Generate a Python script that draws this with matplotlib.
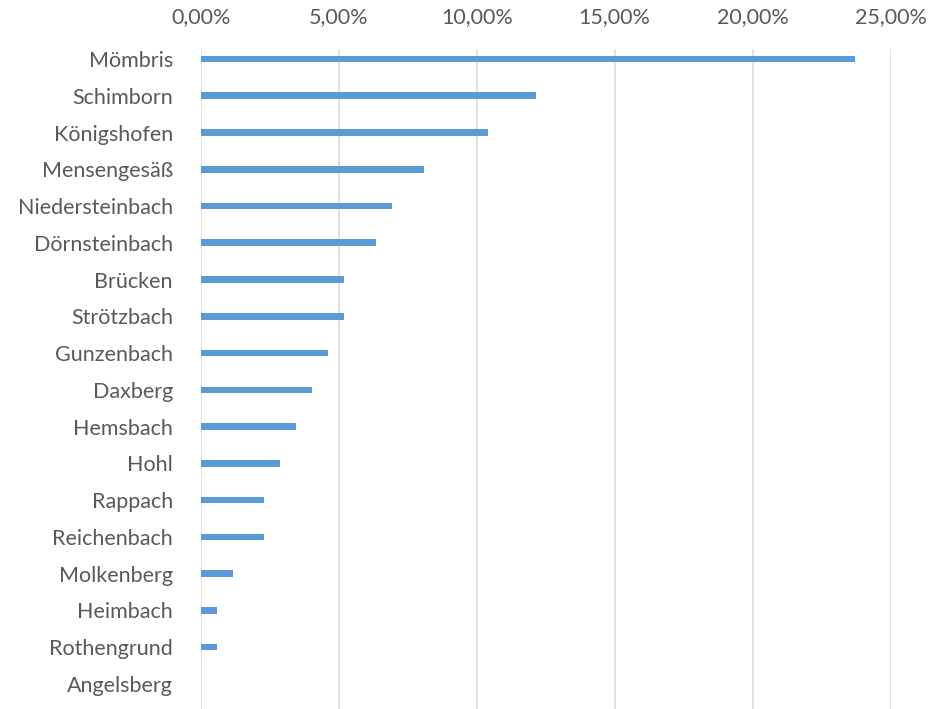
import matplotlib
matplotlib.use("Agg")
import matplotlib.pyplot as plt
from matplotlib.ticker import FuncFormatter

categories = ["Mömbris", "Schimborn", "Königshofen", "Mensengesäß", "Niedersteinbach",
              "Dörnsteinbach", "Brücken", "Strötzbach", "Gunzenbach", "Daxberg",
              "Hemsbach", "Hohl", "Rappach", "Reichenbach", "Molkenberg",
              "Heimbach", "Rothengrund", "Angelsberg"]
values = [23.70, 12.14, 10.40, 8.09, 6.94, 6.36, 5.20, 5.20, 4.62, 4.05,
          3.47, 2.89, 2.31, 2.31, 1.16, 0.58, 0.58, 0.0]
xticks = [0, 5, 10, 15, 20, 25]

plt.rcParams['font.family'] = ['Lato', 'DejaVu Sans']

W, H = 929, 709
fig = plt.figure(figsize=(W / 100, H / 100), dpi=100)
left_px, right_px, top_px, bot_px = 200.7, 890.7, 49, 709
ax = fig.add_axes([left_px / W, 1 - bot_px / H, (right_px - left_px) / W, (bot_px - top_px) / H])

ypos = list(range(len(categories)))
ax.barh(ypos, values, height=0.18, color="#5B9BD5", zorder=3)

ax.set_xlim(0, 25)
row = 36.76
ax.set_ylim((bot_px - 59) / row, -(59 - top_px) / row)

ax.set_yticks(ypos)
ax.set_yticklabels(categories)
ax.set_xticks(xticks)
ax.xaxis.set_major_formatter(FuncFormatter(lambda v, p: f"{v:.2f}".replace(".", ",") + "%"))
ax.xaxis.set_ticks_position('top')
ax.tick_params(axis='both', length=0, labelsize=15.5, labelcolor="#595959")
ax.tick_params(axis='x', pad=16)
ax.tick_params(axis='y', pad=20)

ax.grid(axis='x', color="#D9D9D9", linewidth=1.1, zorder=0)
for s in ax.spines.values():
    s.set_visible(False)

fig.savefig("out.png", dpi=100)
